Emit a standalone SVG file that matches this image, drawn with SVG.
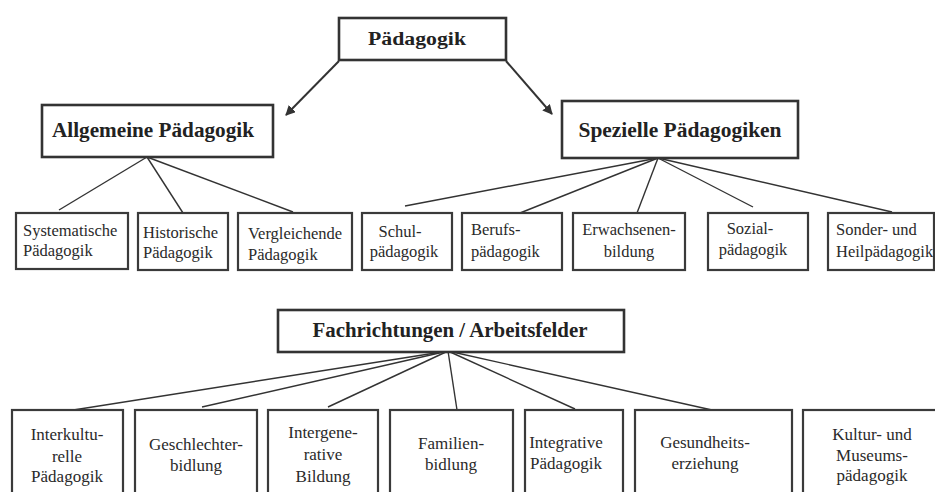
<svg xmlns="http://www.w3.org/2000/svg" width="935" height="492" viewBox="0 0 935 492">
<style>
.bg{fill:#fff}
.hbox{fill:#fff;stroke:#333;stroke-width:2.6}
.box{fill:#fff;stroke:#3a3a3a;stroke-width:2.2}
.h{font-weight:bold;fill:#222;text-anchor:middle}
.t{font-size:16.5px;fill:#2a2a2a}
.t3{font-size:17px;fill:#2a2a2a;text-anchor:middle}
.c{text-anchor:middle}
.ln{stroke:#333;stroke-width:1.4;fill:none}
.ar{stroke:#333;stroke-width:2;fill:none;marker-end:url(#ah)}
</style>
<defs>
<marker id="ah" viewBox="0 0 10 10" refX="9" refY="5" markerWidth="5" markerHeight="5" orient="auto" markerUnits="strokeWidth">
<path d="M0,0 L10,5 L0,10 z" fill="#333"/>
</marker>
</defs>
<rect class="bg" width="935" height="492"/>
<g id="connectors">
<line class="ar" x1="339" y1="61" x2="286" y2="115"/>
<line class="ar" x1="506" y1="61" x2="552" y2="114"/>
<line class="ln" x1="147" y1="157" x2="59" y2="210"/>
<line class="ln" x1="147" y1="157" x2="183" y2="213"/>
<line class="ln" x1="147" y1="157" x2="293" y2="212"/>
<line class="ln" x1="658" y1="158" x2="405" y2="206"/>
<line class="ln" x1="658" y1="158" x2="520" y2="213"/>
<line class="ln" x1="658" y1="158" x2="637" y2="213"/>
<line class="ln" x1="658" y1="158" x2="753" y2="207"/>
<line class="ln" x1="658" y1="158" x2="892" y2="212"/>
<line class="ln" x1="448" y1="351" x2="67" y2="411"/>
<line class="ln" x1="448" y1="351" x2="202" y2="407"/>
<line class="ln" x1="448" y1="351" x2="328" y2="407"/>
<line class="ln" x1="448" y1="351" x2="457" y2="410"/>
<line class="ln" x1="448" y1="351" x2="575" y2="409"/>
<line class="ln" x1="448" y1="351" x2="712" y2="410"/>
</g>
<g font-family="'Liberation Serif', 'DejaVu Serif', serif">
<g id="paedagogik">
<rect class="hbox" x="339" y="18" width="167" height="42"/>
<text class="h" x="417" y="45" font-size="18" textLength="98" lengthAdjust="spacingAndGlyphs">Pädagogik</text>
</g>
<g id="allgemeine">
<rect class="hbox" x="42" y="105" width="231" height="52" stroke-width="3"/>
<text class="h" x="153" y="137" font-size="21" textLength="202" lengthAdjust="spacingAndGlyphs">Allgemeine Pädagogik</text>
</g>
<g id="spezielle">
<rect class="hbox" x="562" y="101" width="236" height="57" stroke-width="3"/>
<text class="h" x="680" y="137" font-size="21" textLength="203" lengthAdjust="spacingAndGlyphs">Spezielle Pädagogiken</text>
</g>
<g id="systematische">
<rect class="box" x="16" y="213" width="112" height="56"/>
<text class="t" x="23" y="236">Systematische</text>
<text class="t" x="23" y="256">Pädagogik</text>
</g>
<g id="historische">
<rect class="box" x="138" y="213" width="90" height="57"/>
<text class="t" x="143" y="238">Historische</text>
<text class="t" x="143" y="258">Pädagogik</text>
</g>
<g id="vergleichende">
<rect class="box" x="238" y="213" width="114" height="57"/>
<text class="t" x="248" y="239">Vergleichende</text>
<text class="t" x="248" y="260">Pädagogik</text>
</g>
<g id="schul">
<rect class="box" x="362" y="213" width="90" height="57"/>
<text class="t c" x="400" y="237">Schul-</text>
<text class="t c" x="404" y="257">pädagogik</text>
</g>
<g id="berufs">
<rect class="box" x="462" y="213" width="100" height="57"/>
<text class="t" x="471" y="235">Berufs-</text>
<text class="t" x="471" y="257">pädagogik</text>
</g>
<g id="erwachsenen">
<rect class="box" x="573" y="213" width="112" height="57"/>
<text class="t c" x="629" y="235">Erwachsenen-</text>
<text class="t c" x="629" y="257">bildung</text>
</g>
<g id="sozial">
<rect class="box" x="708" y="213" width="100" height="57"/>
<text class="t c" x="750" y="234">Sozial-</text>
<text class="t c" x="753" y="255">pädagogik</text>
</g>
<g id="sonder">
<rect class="box" x="828" y="213" width="106" height="57"/>
<text class="t" x="836" y="235">Sonder- und</text>
<text class="t" x="836" y="257">Heilpädagogik</text>
</g>
<g id="fachrichtungen">
<rect class="hbox" x="278" y="310" width="346" height="42"/>
<text class="h" x="450" y="337" font-size="20" textLength="275" lengthAdjust="spacingAndGlyphs">Fachrichtungen / Arbeitsfelder</text>
</g>
<g id="interkulturelle">
<rect class="box" x="12" y="410" width="111" height="95"/>
<text class="t3" x="67" y="440">Interkultu-</text>
<text class="t3" x="67" y="462">relle</text>
<text class="t3" x="67" y="482">Pädagogik</text>
</g>
<g id="geschlechter">
<rect class="box" x="135" y="410" width="122" height="95"/>
<text class="t3" x="196" y="450">Geschlechter-</text>
<text class="t3" x="196" y="471">bidlung</text>
</g>
<g id="intergenerative">
<rect class="box" x="268" y="410" width="110" height="95"/>
<text class="t3" x="323" y="438">Intergene-</text>
<text class="t3" x="323" y="460">rative</text>
<text class="t3" x="323" y="482">Bildung</text>
</g>
<g id="familien">
<rect class="box" x="390" y="410" width="123" height="95"/>
<text class="t3" x="451" y="449">Familien-</text>
<text class="t3" x="451" y="470">bidlung</text>
</g>
<g id="integrative">
<rect class="box" x="525" y="410" width="98" height="95"/>
<text class="t3" x="566" y="448">Integrative</text>
<text class="t3" x="566" y="469">Pädagogik</text>
</g>
<g id="gesundheits">
<rect class="box" x="635" y="410" width="157" height="95"/>
<text class="t3" x="705" y="448">Gesundheits-</text>
<text class="t3" x="705" y="469">erziehung</text>
</g>
<g id="kultur">
<rect class="box" x="803" y="410" width="140" height="95"/>
<text class="t3" x="872" y="440">Kultur- und</text>
<text class="t3" x="872" y="461">Museums-</text>
<text class="t3" x="872" y="481">pädagogik</text>
</g>
</g>
</svg>
